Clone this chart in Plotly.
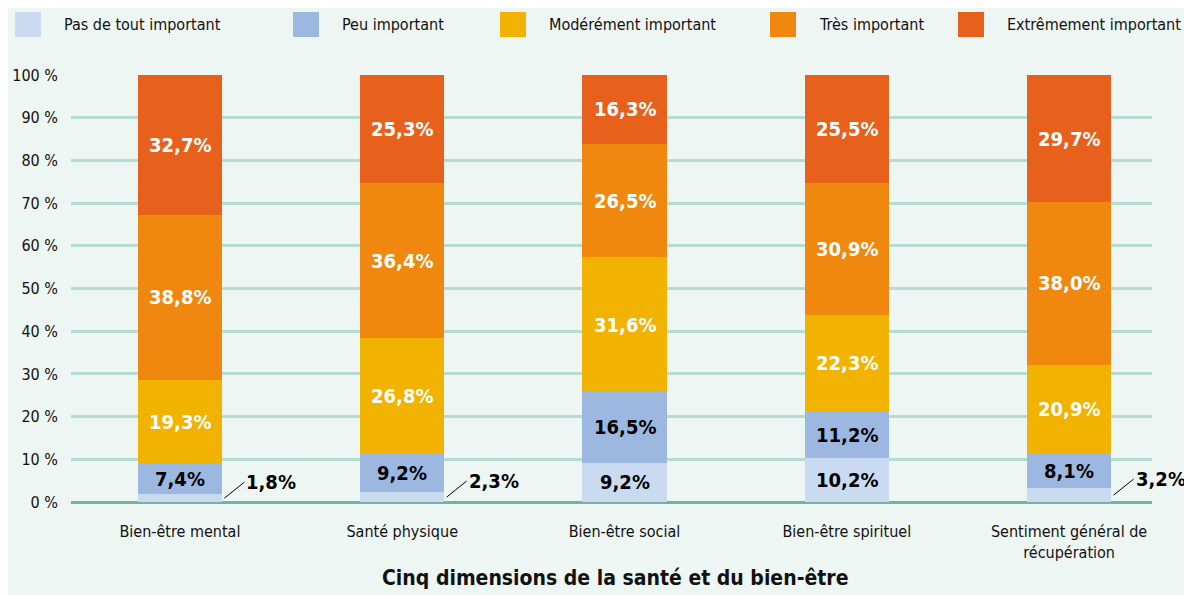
import plotly.graph_objects as go

categories = ["Bien-être mental", "Santé physique", "Bien-être social",
              "Bien-être spirituel", "Sentiment général de<br>récupération"]
levels = ["Pas de tout important", "Peu important", "Modérément important",
          "Très important", "Extrêmement important"]
pas_de_tout = [1.8, 2.3, 9.2, 10.2, 3.2]
peu = [7.4, 9.2, 16.5, 11.2, 8.1]
modere = [19.3, 26.8, 31.6, 22.3, 20.9]
tres = [38.8, 36.4, 26.5, 30.9, 38.0]
extreme = [32.7, 25.3, 16.3, 25.5, 29.7]

series = [pas_de_tout, peu, modere, tres, extreme]
colors = ["#c9daf1", "#9cb8e1", "#f2b200", "#f0870e", "#e8611c"]
text_colors = ["black", "black", "white", "white", "white"]

FONT = "DejaVu Sans Condensed, Liberation Sans Narrow, sans-serif"
BAR_W = 0.38
W, H = 1184, 587
L, R, T, B = 63, 40, 67, 93
PW, PH = W - L - R, H - T - B


def fmt(v):
    return f"{v:.1f}".replace(".", ",") + "%"


def px_x(x):  # figure pixel -> paper fraction
    return (x - L) / PW


def px_y(y):
    return (H - B - y) / PH


fig = go.Figure()
for name, vals, col in zip(levels, series, colors):
    fig.add_trace(go.Bar(
        x=list(range(len(categories))), y=vals, name=name, marker_color=col,
        marker_line_width=0, width=BAR_W, hoverinfo="skip", showlegend=False,
    ))

# value labels at segment midpoints
base = [0.0] * len(categories)
for vals, tcol in zip(series, text_colors):
    for i, v in enumerate(vals):
        if v >= 5:
            fig.add_annotation(
                x=i, y=base[i] + v / 2, text="<b>" + fmt(v) + "</b>",
                showarrow=False, font=dict(family=FONT, size=20, color=tcol),
            )
        else:
            fig.add_annotation(
                x=i + BAR_W / 2 + 0.01, y=base[i] + v / 2,
                text="<b>" + fmt(v) + "</b>", showarrow=True, arrowhead=0,
                arrowwidth=1, arrowcolor="black", ax=20, ay=-16, xanchor="left",
                font=dict(family=FONT, size=20, color="black"),
            )
        base[i] += v

# legend drawn by hand (big square swatches)
sw_x = [7, 285, 492, 762, 950]
for name, col, sx in zip(levels, colors, sw_x):
    fig.add_shape(type="rect", xref="paper", yref="paper",
                  x0=px_x(sx), x1=px_x(sx + 26), y0=px_y(29), y1=px_y(4),
                  fillcolor=col, line_width=0)
    fig.add_annotation(xref="paper", yref="paper", x=px_x(sx + 47), y=px_y(16),
                       text=name, showarrow=False, xanchor="left", yanchor="middle",
                       font=dict(family=FONT, size=16, color="#111"))

fig.add_annotation(xref="paper", yref="paper", x=px_x(607), y=px_y(570),
                   text="<b>Cinq dimensions de la santé et du bien-être</b>",
                   showarrow=False, xanchor="center", yanchor="middle",
                   font=dict(family=FONT, size=21, color="#111"))

fig.update_layout(
    barmode="stack",
    width=W, height=H,
    paper_bgcolor="#eef6f3", plot_bgcolor="#eef6f3",
    margin=dict(l=L, r=R, t=T, b=B),
    font=dict(family=FONT, size=16, color="#111"),
    showlegend=False,
    xaxis=dict(
        range=[-0.49, 4.373], showgrid=False, ticks="", automargin=False,
        tickmode="array", tickvals=list(range(len(categories))), ticktext=categories,
        tickfont=dict(size=16), ticklabelstandoff=18,
    ),
    yaxis=dict(
        range=[0, 100], dtick=10, ticksuffix=" %", gridcolor="#b4dcd4",
        gridwidth=2.5, zeroline=True, zerolinecolor="#6db5a6", zerolinewidth=3,
        tickfont=dict(size=16), ticklabelstandoff=12, automargin=False,
    ),
)

fig.write_html("out.html")
